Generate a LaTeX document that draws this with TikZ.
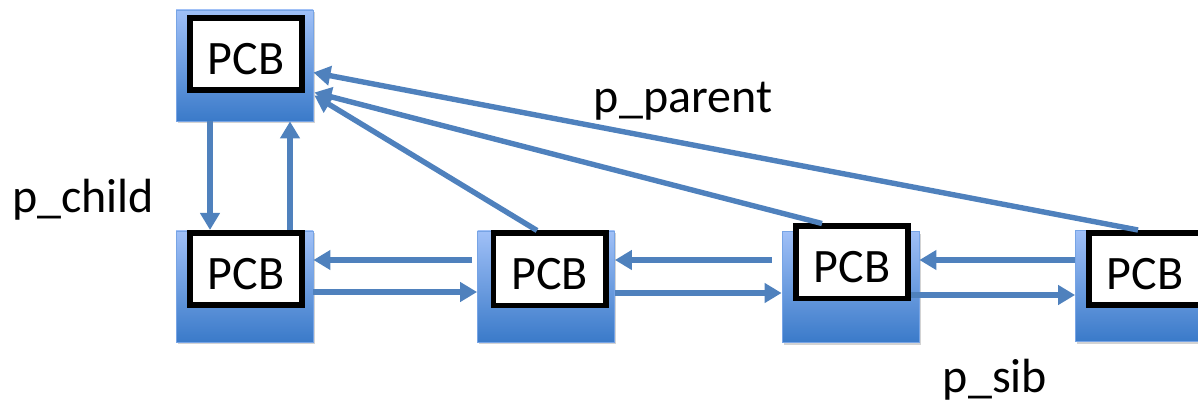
\documentclass[tikz,border=0pt]{standalone}
\usepackage{fontspec}
\setmainfont{Carlito}
\usetikzlibrary{arrows.meta,shadows,calc}

\definecolor{pcbtop}{RGB}{160,192,247}
\definecolor{pcbbot}{RGB}{58,122,201}
\definecolor{linkblue}{RGB}{79,129,189}

\tikzset{
  pcbback/.style={minimum width=68.5pt, minimum height=55.5pt, inner sep=0pt,
    top color=pcbtop, bottom color=pcbbot, draw=pcbtop!60!pcbbot, line width=0.4pt,
    drop shadow={shadow xshift=0.8pt, shadow yshift=-1.2pt, opacity=0.35}},
  pcbcard/.style={draw=black, fill=white, line width=2.8pt, minimum width=56.2pt,
    minimum height=36.2pt, inner sep=0pt, text height=20.5pt, text depth=0pt,
    font=\fontsize{24}{28}\selectfont},
  link/.style={draw=linkblue, line width=2.7pt, -{Triangle[length=8.5pt,width=9.5pt]}},
  lbl/.style={font=\fontsize{24}{28}\selectfont, inner sep=0pt, anchor=base}
}

\begin{document}
\begin{tikzpicture}[x=0.5pt,y=-0.5pt]
            \useasboundingbox (0,0) rectangle (1198,405);
            \clip (0,0) rectangle (1198,405);
            \node [pcbback] (bgpar) at (244.5,65.5) {};
            \node [pcbcard] (par) at (246,54) {PCB};
            \node [pcbback] (bg1) at (244.5,286.5) {};
            \node [pcbcard] (ch1) at (246,269) {PCB};
            \node [pcbback] (bg2) at (546,286.5) {};
            \node [pcbcard] (ch2) at (549.5,269.5) {PCB};
            \node [pcbback] (bg3) at (850.5,287) {};
            \node [pcbcard] (ch3) at (852,262.5) {PCB};
            \node [pcbback] (bg4) at (1144,286) {};
            \node [pcbcard] (ch4) at (1145,269) {PCB};
            \draw [link] ($(bgpar.south)+(-34.5,0)$) -- ($(ch1.north)+(-36,0)$);
            \draw [link] ($(ch1.north)+(44,0)$) -- ($(bgpar.south)+(45.5,0)$);
            \draw [link] ($(ch2.north)+(-12.5,0)$) -- ($(bgpar.east)+(1,30)$);
            \draw [link] ($(ch3.north)+(-30,0)$) -- ($(bgpar.east)+(1,27)$);
            \draw [link] ($(ch4.north)+(-7,0)$) -- ($(bgpar.east)+(0,7)$);
            \draw [link] ($(bg2.west)+(-5,-26.5)$) -- ($(bg1.east)+(0,-26.5)$);
            \draw [link] ($(bg1.east)+(0,5.5)$) -- ($(bg2.west)+(0,5.5)$);
            \draw [link] ($(bg3.west)+(-10,-27)$) -- ($(bg2.east)+(0,-26.5)$);
            \draw [link] ($(bg2.east)+(0,6.5)$) -- ($(bg3.west)+(0,6)$);
            \draw [link] ($(bg4.west)+(0,-26)$) -- ($(bg3.east)+(0,-27)$);
            \draw [link] ($(bg3.east)+(-8,8)$) -- ($(bg4.west)+(0,9)$);
            \node [lbl] (lchild) at (83,213) {p\_child};
            \node [lbl] (lparent) at (683,113) {p\_parent};
            \node [lbl] (lsib) at (995,393) {p\_sib};
        \end{tikzpicture}
\end{document}
